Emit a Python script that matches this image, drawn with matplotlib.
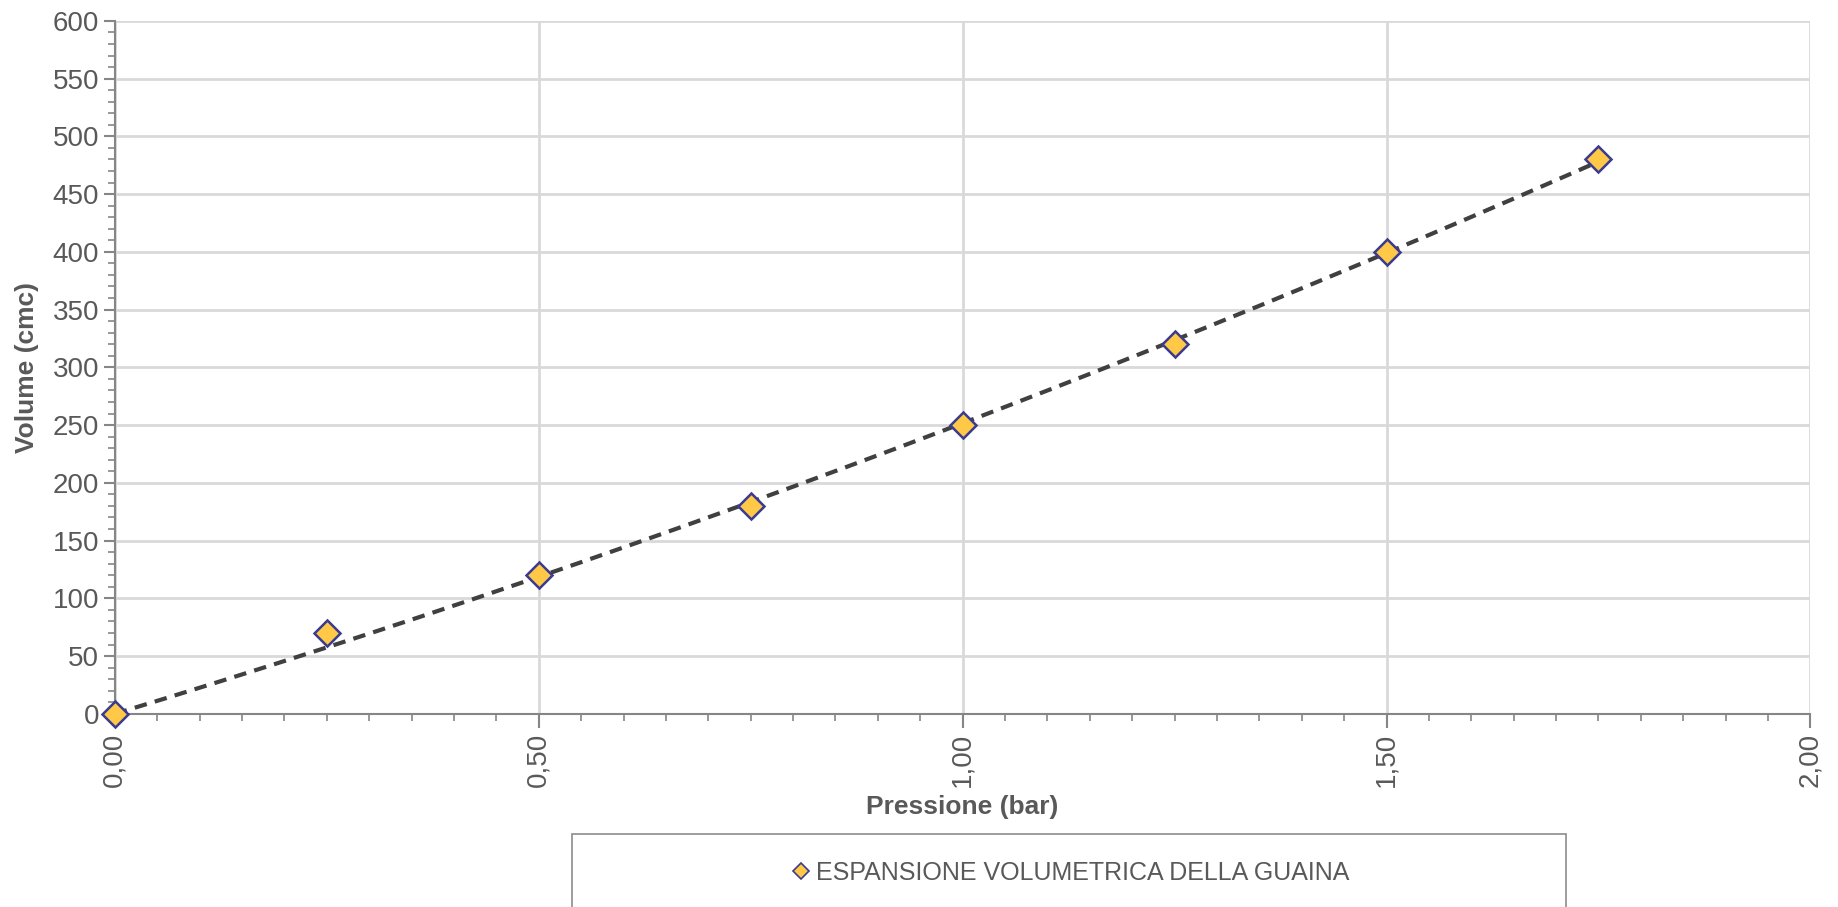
import numpy as np
import matplotlib.pyplot as plt
from matplotlib.patches import Rectangle
from matplotlib.ticker import MultipleLocator, FuncFormatter

plt.rcParams['font.family'] = ['Liberation Sans', 'DejaVu Sans']

# data
pressione = [0.00, 0.25, 0.50, 0.75, 1.00, 1.25, 1.50, 1.75]
volume = [0, 70, 120, 180, 250, 320, 400, 480]
serie_label = "ESPANSIONE VOLUMETRICA DELLA GUAINA"

TXT = '#595959'
GRID = '#d9d9d9'
AXIS = '#868686'

fig = plt.figure(figsize=(18.38, 9.07), dpi=100)
ax = fig.add_axes([0.0625, 0.213, 0.9225, 0.764])

# polynomial trendline (order 2, intercept at 0) fitted to the points
xp = np.asarray(pressione)
A = np.column_stack([xp, xp ** 2])
a, b = np.linalg.lstsq(A, np.asarray(volume, float), rcond=None)[0]
xt = np.linspace(xp.min(), xp.max(), 200)
ax.plot(xt, a * xt + b * xt ** 2, '--', color='#404040', linewidth=3,
        dashes=(3, 2), zorder=3)

ax.plot(pressione, volume, 'D', markersize=13, markerfacecolor='#ffc847',
        markeredgecolor='#3b3b8f', markeredgewidth=1.8, linestyle='none',
        zorder=4, clip_on=False)

ax.set_xlim(0, 2)
ax.set_ylim(0, 600)
ax.xaxis.set_major_locator(MultipleLocator(0.5))
ax.xaxis.set_minor_locator(MultipleLocator(0.05))
ax.yaxis.set_major_locator(MultipleLocator(50))
ax.yaxis.set_minor_locator(MultipleLocator(10))
ax.xaxis.set_major_formatter(FuncFormatter(lambda v, p: f"{v:.2f}".replace('.', ',')))

ax.grid(True, which='major', color=GRID, linewidth=2)
ax.set_axisbelow(True)
for s in ['top', 'right']:
    ax.spines[s].set_visible(False)
for s in ['left', 'bottom']:
    ax.spines[s].set_color(AXIS)
    ax.spines[s].set_linewidth(1.5)

ax.tick_params(axis='both', which='major', labelsize=20, colors=AXIS,
               labelcolor=TXT, length=8, width=1.5)
ax.tick_params(axis='both', which='minor', colors=AXIS, length=5, width=1.2)
ax.tick_params(axis='x', which='major', labelrotation=90, length=10)

ax.set_xlabel('Pressione (bar)', fontsize=19, fontweight='bold', color=TXT, labelpad=6)
ax.set_ylabel('Volume (cmc)', fontsize=19, fontweight='bold', color=TXT, labelpad=10)

# legend box
fig.patches.append(Rectangle((0.311, -0.05), 0.541, 0.13, transform=fig.transFigure,
                             facecolor='white', edgecolor='#8c8c8c', linewidth=1.2))
handle = plt.Line2D([], [], marker='D', markersize=8, markerfacecolor='#ffc847',
                    markeredgecolor='#3b3b8f', markeredgewidth=1.2, linestyle='none')
fig.legend([handle], [serie_label], loc='center', bbox_to_anchor=(0.5815, 0.0375),
           frameon=False, fontsize=18, labelcolor=TXT, handletextpad=0.1,
           handlelength=1.0)

fig.savefig('out.png', dpi=100)
